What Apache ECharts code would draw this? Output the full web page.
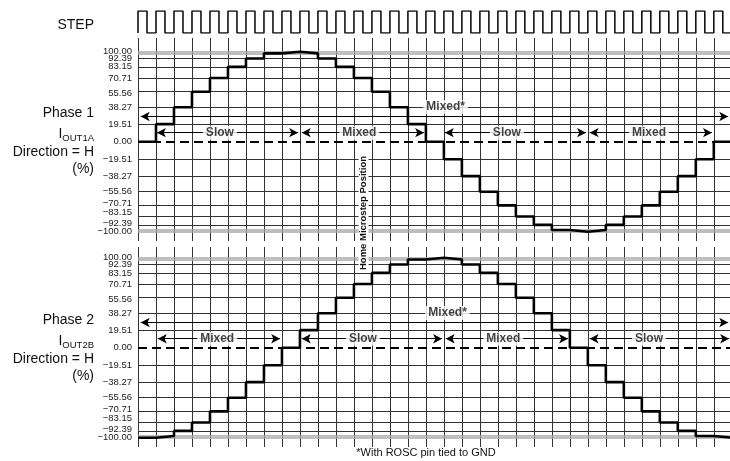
<!DOCTYPE html>
<html>
<head>
<meta charset="utf-8">
<script src="https://cdn.jsdelivr.net/npm/echarts@6/dist/echarts.min.js"></script>
<style>
  html, body { margin: 0; padding: 0; background: #fff; }
  #chart { width: 730px; height: 461px; }
</style>
</head>
<body>
<div id="chart"></div>
<script>
// current levels (%) used for the horizontal reference lines
const levels = [100, 98.08, 92.39, 83.15, 70.71, 55.56, 38.27, 19.51, 0,
  -19.51, -38.27, -55.56, -70.71, -83.15, -92.39, -98.08, -100];
// tick labels shown on each panel
const tickLabels = [100, 92.39, 83.15, 70.71, 55.56, 38.27, 19.51, 0,
  -19.51, -38.27, -55.56, -70.71, -83.15, -92.39, -100];

// one value per STEP period (33 periods)
const phase1 = [0, 19.51, 38.27, 55.56, 70.71, 83.15, 92.39, 98.08, 100,
  98.08, 92.39, 83.15, 70.71, 55.56, 38.27, 19.51, 0,
  -19.51, -38.27, -55.56, -70.71, -83.15, -92.39, -98.08, -100,
  -98.08, -92.39, -83.15, -70.71, -55.56, -38.27, -19.51, 0];
const phase2 = [-100, -98.08, -92.39, -83.15, -70.71, -55.56, -38.27, -19.51, 0,
  19.51, 38.27, 55.56, 70.71, 83.15, 92.39, 98.08, 100,
  98.08, 92.39, 83.15, 70.71, 55.56, 38.27, 19.51, 0,
  -19.51, -38.27, -55.56, -70.71, -83.15, -92.39, -98.08, -100];

// STEP clock, one level per half period
const clockLevels = [1,0, 1,0, 1,0, 1,0, 1,0, 1,0, 1,0, 1,0, 1,0, 1,0, 1,0,
  1,0, 1,0, 1,0, 1,0, 1,0, 1,0, 1,0, 1,0, 1,0, 1,0, 1,0,
  1,0, 1,0, 1,0, 1,0, 1,0, 1,0, 1,0, 1,0, 1,0, 1,0, 1,0];

// decay-mode arrows: [from, to, level, label, labelX, labelY]
const arrows1 = [
  [0.15, 32.8, 28, 'Mixed*', 17.1, 38.5],
  [1.05, 8.9, 10, 'Slow', 4.55, 10],
  [9.1, 15.9, 10, 'Mixed', 12.3, 10],
  [17.05, 24.9, 10, 'Slow', 20.5, 10],
  [25.1, 31.9, 10, 'Mixed', 28.4, 10]
];
const arrows2 = [
  [0.15, 32.8, 28, 'Mixed*', 17.2, 38.5],
  [1.1, 7.9, 10, 'Mixed', 4.4, 10],
  [9.1, 16.9, 10, 'Slow', 12.5, 10],
  [17.1, 23.9, 10, 'Mixed', 20.3, 10],
  [25.1, 32.85, 10, 'Slow', 28.4, 10]
];

const chart = echarts.init(document.getElementById('chart'));
const FONT = 'Liberation Sans, Arial, sans-serif';

const stairs = vals => {
  const d = vals.map((v, i) => [i, v]);
  d.push([vals.length, vals[vals.length - 1]]);
  return d;
};
const clockData = [[0, 0]].concat(clockLevels.map((v, i) => [i * 0.5, v]), [[33, 1]]);

// labels that sit close together go on separate axes so none gets hidden
const tickGroups = [
  tickLabels.filter(v => Math.abs(v) === 100),
  tickLabels.filter(v => Math.abs(v) === 92.39),
  tickLabels.filter(v => Math.abs(v) === 83.15),
  tickLabels.filter(v => Math.abs(v) < 80)
];

const fmtTick = v => {
  const t = (v < 0 ? '\u2212' : '') + Math.abs(v).toFixed(2);
  if (v === -83.15) return '{u4|' + t + '}';
  if (v === -92.39 || v === -70.71) return '{u2|' + t + '}';
  if (v === 55.56) return '{d2|' + t + '}';
  return t;
};

const gridLines = () => levels.map(v => {
  let ls = { color: '#333', width: 1, type: 'solid' };
  if (Math.abs(v) > 95) ls = { color: '#a9a9a9', width: 1.6, type: 'solid' };
  if (v === 0) ls = { color: '#000', width: 1.8, type: [9, 5] };
  return { yAxis: v, lineStyle: ls };
});

const xAxisBase = idx => ({
  type: 'value', gridIndex: idx, min: 0, max: 32.9, interval: 1,
  axisLine: { show: false }, axisTick: { show: false }, axisLabel: { show: false },
  splitLine: { show: idx > 0, lineStyle: { color: '#333', width: 1 } }
});
const tickRich = pad => ({ padding: pad, fontFamily: FONT, fontSize: 9.5, color: '#222' });
const yAxisPanel = (idx, min, max, vals) => ({
  type: 'value', gridIndex: idx, min: min, max: max, position: 'left',
  axisLine: { show: false }, axisTick: { show: false }, splitLine: { show: false },
  axisLabel: {
    customValues: vals, formatter: fmtTick, margin: 6,
    fontFamily: FONT, fontSize: 9.5, color: '#222',
    rich: {
      u4: tickRich([0, 0, 8, 0]),
      u2: tickRich([0, 0, 4, 0]),
      d2: tickRich([3, 0, 0, 0])
    }
  }
});

const panelSeries = (idx, yIdx, vals, arr) => [
  {
    type: 'line', xAxisIndex: idx, yAxisIndex: yIdx, data: [], z: 1, silent: true,
    markLine: { z: 1, silent: true, symbol: 'none', label: { show: false }, animation: false, data: gridLines() }
  },
  {
    type: 'line', xAxisIndex: idx, yAxisIndex: yIdx, step: 'end', data: stairs(vals),
    symbol: 'none', z: 4, lineStyle: { color: '#000', width: 2.6 }
  },
  {
    type: 'line', xAxisIndex: idx, yAxisIndex: yIdx, data: [], z: 5, silent: true,
    markLine: {
      z: 6, silent: true, symbol: ['arrow', 'arrow'], symbolSize: [7, 9], label: { show: false }, animation: false,
      lineStyle: { color: '#000', width: 1.2, type: 'solid' },
      data: arr.map(a => [{ coord: [a[0], a[2]] }, { coord: [a[1], a[2]] }])
    }
  },
  {
    type: 'scatter', xAxisIndex: idx, yAxisIndex: yIdx, symbolSize: 0, z: 8, silent: true,
    data: arr.map(a => ({ value: [a[4], a[5]], name: a[3] })),
    label: {
      show: true, position: 'inside', formatter: '{b}', fontFamily: FONT, fontWeight: 'bold',
      fontSize: 12, color: '#111', backgroundColor: '#fff', padding: [1, 3]
    }
  }
];

const leftLabels = (base, sub, dy) => [
  { type: 'text', x: 94, y: 113 + dy, style: { text: 'Phase ' + base, font: '14px ' + FONT, fill: '#111', align: 'right', verticalAlign: 'middle' } },
  {
    type: 'text', x: 94, y: 134 + dy,
    style: {
      text: '{a|I}{b|' + sub + '}', align: 'right', verticalAlign: 'middle',
      rich: {
        a: { font: '14px ' + FONT, fill: '#111', verticalAlign: 'bottom' },
        b: { font: '9.5px ' + FONT, fill: '#111', verticalAlign: 'bottom', padding: [0, 0, -2, 0] }
      }
    }
  },
  { type: 'text', x: 94, y: 152 + dy, style: { text: 'Direction = H', font: '14px ' + FONT, fill: '#111', align: 'right', verticalAlign: 'middle' } },
  { type: 'text', x: 94, y: 169 + dy, style: { text: '(%)', font: '14px ' + FONT, fill: '#111', align: 'right', verticalAlign: 'middle' } }
];

// y axes: 0 = clock, 1..4 = panel 1 (label groups), 5..8 = panel 2
const yAxes = [{ type: 'value', gridIndex: 0, min: 0, max: 1, show: false }]
  .concat(tickGroups.map(g => yAxisPanel(1, -110.3, 115.2, g)))
  .concat(tickGroups.map(g => yAxisPanel(2, -110.3, 111.9, g)));

chart.setOption({
  animation: false,
  grid: [
    { left: 138, right: 0, top: 11, height: 22 },
    { left: 138, right: 0, top: 38, height: 203 },
    { left: 138, right: 0, top: 247, height: 200 }
  ],
  xAxis: [xAxisBase(0), xAxisBase(1), xAxisBase(2)],
  yAxis: yAxes,
  series: [
    {
      type: 'line', xAxisIndex: 0, yAxisIndex: 0, step: 'end', data: clockData,
      symbol: 'none', lineStyle: { color: '#111', width: 1.6 }
    }
  ].concat(panelSeries(1, 1, phase1, arrows1), panelSeries(2, 5, phase2, arrows2)),
  graphic: [
    { type: 'text', x: 94, y: 25, style: { text: 'STEP', font: '14px ' + FONT, fill: '#111', align: 'right', verticalAlign: 'middle' } },
    ...leftLabels(1, 'OUT1A', 0),
    ...leftLabels(2, 'OUT2B', 207),
    {
      type: 'text', x: 363.5, y: 213, rotation: Math.PI / 2, z: 20,
      style: {
        text: 'Home Microstep Position', font: 'bold 9.5px ' + FONT, fill: '#111',
        align: 'center', verticalAlign: 'middle', backgroundColor: '#fff', padding: [0, 1]
      }
    },
    { type: 'text', x: 426, y: 453, style: { text: '*With ROSC pin tied to GND', font: '11px ' + FONT, fill: '#111', align: 'center', verticalAlign: 'middle' } }
  ]
});
</script>
</body>
</html>
